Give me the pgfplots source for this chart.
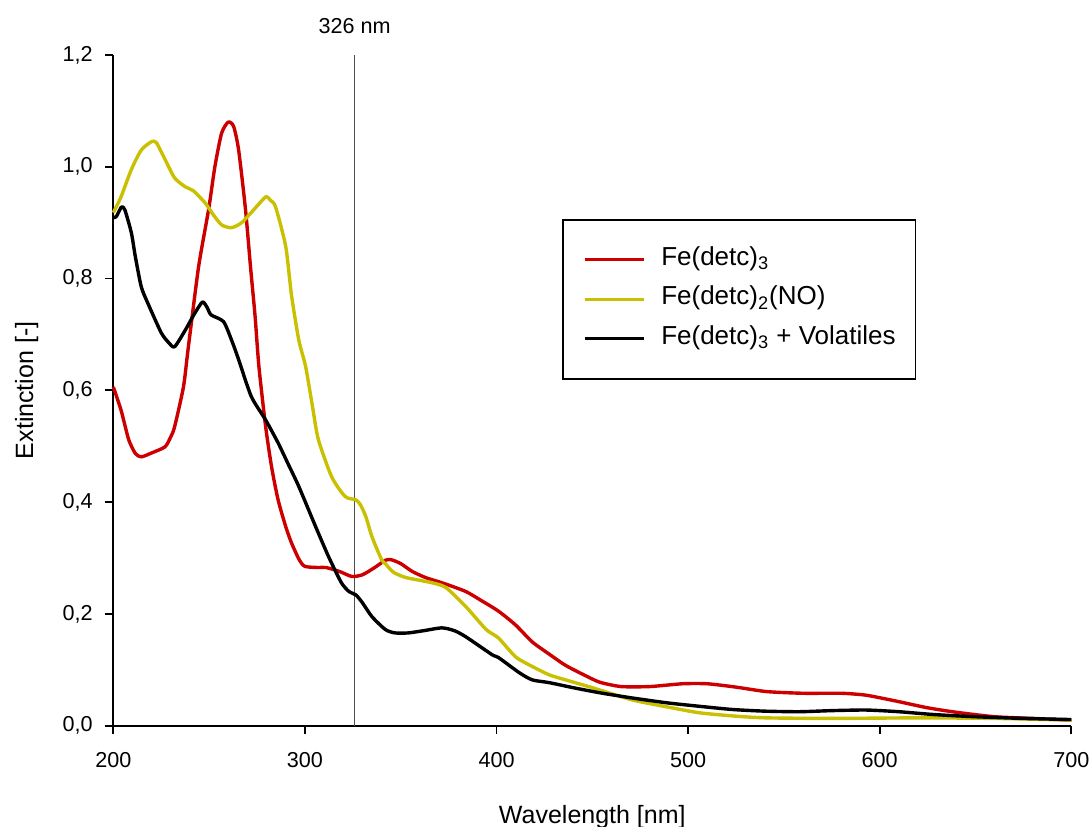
\documentclass[border=0pt]{standalone}
\usepackage{fontspec}
\setmainfont{Liberation Sans}
\usepackage{pgfplots}
\pgfplotsset{compat=1.18}
\definecolor{cred}{RGB}{204,0,0}
\definecolor{cyel}{RGB}{200,192,0}
\begin{document}
\begin{tikzpicture}
\begin{axis}[
  scale only axis, width=479pt, height=335.35pt,
  xmin=200, xmax=700, ymin=0, ymax=1.2,
  axis x line*=bottom, axis y line*=left,
  axis line style={line width=0.85pt, -},
  tick align=outside, major tick length=4.2pt,
  tick style={line width=0.85pt, black},
  xtick={200,300,400,500,600,700},
  xticklabels={200,300,400,500,600,700},
  ytick={0,0.2,0.4,0.6,0.8,1.0,1.2},
  yticklabels={{0,0},{0,2},{0,4},{0,6},{0,8},{1,0},{1,2}},
  xticklabel style={font=\fontsize{10.8}{12}\selectfont, anchor=north, inner sep=0pt, yshift=-9pt},
  yticklabel style={font=\fontsize{10.8}{12}\selectfont, anchor=east, inner sep=0pt, xshift=-6pt},
  xlabel={Wavelength [nm]},
  ylabel={Extinction [-]},
  xlabel style={font=\fontsize{12.5}{14}\selectfont, at={(rel axis cs:0.5,-0.1451)}, anchor=base, inner sep=0pt},
  ylabel style={font=\fontsize{12.5}{14}\selectfont, at={(rel axis cs:-0.0905,0.5)}, anchor=center, rotate=0, inner sep=0pt},
  legend style={at={(rel axis cs:0.4684,0.7555)}, anchor=north west, draw=black, line width=0.8pt,
    inner xsep=10pt, inner ysep=13.75pt, row sep=7.25pt, column sep=8pt,
    font=\fontsize{13}{15}\selectfont,
    nodes={inner sep=0pt, text height=8.95pt, text depth=3.55pt}},
  legend cell align=left,
  legend image code/.code={\draw[#1] (0pt,0pt) -- (29.5pt,0pt);},
  clip=false,
]
\addplot[gray!60!black, line width=0.75pt, forget plot] coordinates {(326,0) (326,1.2)};
\node[font=\fontsize{10.8}{12}\selectfont, inner sep=0pt] at ([yshift=14.5pt]axis cs:326,1.2) {326 nm};

\addplot[cred, line width=1.7pt, line join=round, smooth, tension=0.4] coordinates {
(200,0.606) (204,0.565) (208,0.512) (211.5,0.487) (214.6,0.481) (220,0.488) (227,0.499) (230,0.517)
(232,0.535) (236.6,0.606) (239,0.673) (244.5,0.821) (249.7,0.923) (253,1.0) (256.5,1.06) (260,1.08)
(262.8,1.072) (265.4,1.03) (269,0.923) (271.6,0.821) (274,0.732) (276,0.642) (279.5,0.535) (282.6,0.463)
(286,0.404) (290,0.356) (293,0.327) (297,0.297) (300,0.285) (307,0.283) (311,0.283) (318,0.276)
(324.5,0.267) (330,0.270) (336,0.282) (342,0.296) (345,0.297) (350,0.290) (356,0.276) (363,0.265)
(373,0.254) (384,0.240) (392,0.224) (401,0.205) (410,0.180) (418.6,0.150) (427.5,0.128) (436,0.108)
(445,0.092) (453.7,0.078) (465,0.070) (480,0.070) (497,0.075) (510,0.075) (525,0.069) (541,0.061)
(560,0.058) (580,0.058) (592,0.055) (600,0.050) (610,0.043) (625,0.032) (640,0.024) (660,0.016)
(680,0.013) (700,0.010)};
\addlegendentry{Fe(detc)\textsubscript{3}}

\addplot[cyel, line width=1.7pt, line join=round, smooth, tension=0.4] coordinates {
(200,0.918) (204,0.946) (209.4,0.995) (214.6,1.030) (220,1.045) (222.5,1.043) (227,1.013) (232,0.980)
(237.6,0.964) (241.8,0.957) (248,0.935) (252,0.915) (256.5,0.896) (261.7,0.891) (267,0.900) (273,0.922)
(279.5,0.946) (282,0.940) (284.7,0.928) (290,0.857) (293,0.770) (296.8,0.690) (300.4,0.642) (304,0.570)
(307,0.512) (314,0.445) (321,0.410) (326.6,0.404) (329,0.395) (331.8,0.374) (335,0.338) (340,0.297)
(342,0.290) (346,0.275) (352.7,0.265) (366,0.256) (373.6,0.247) (384,0.213) (394.6,0.172) (401,0.157)
(410,0.123) (418.6,0.106) (427.5,0.091) (436,0.082) (450,0.068) (471,0.046) (490,0.033) (506,0.023)
(525,0.017) (541,0.014) (575,0.013) (620,0.014) (660,0.013) (700,0.010)};
\addlegendentry{Fe(detc)\textsubscript{2}(NO)}

\addplot[black, line width=1.7pt, line join=round, smooth, tension=0.4] coordinates {
(200,0.909) (201.6,0.911) (204.2,0.928) (206,0.923) (209.4,0.882) (211.5,0.839) (214.6,0.785) (218,0.756)
(225,0.703) (229,0.685) (232,0.678) (237.6,0.708) (242,0.735) (246.5,0.758) (249,0.748) (251,0.735)
(257.5,0.723) (261.7,0.690) (265.4,0.655) (272,0.589) (279.5,0.547) (286,0.506) (291,0.470) (296.8,0.428)
(305.6,0.356) (312.4,0.302) (319,0.256) (323,0.240) (326.6,0.234) (330,0.220) (335,0.195) (342,0.172)
(347,0.166) (354,0.166) (362,0.170) (371.5,0.175) (378,0.170) (384,0.159) (397.7,0.127) (401,0.122)
(411.8,0.095) (418.6,0.082) (427.5,0.077) (440,0.068) (453.7,0.059) (470,0.050) (488.7,0.041) (505,0.035)
(523,0.029) (540,0.026) (558,0.025) (575.5,0.027) (593,0.028) (610,0.025) (628,0.020) (650,0.016)
(675,0.013) (700,0.011)};
\addlegendentry{Fe(detc)\textsubscript{3} + Volatiles}

\coordinate (bbl) at (rel axis cs:-0.1183,-0.151);
\coordinate (btr) at (rel axis cs:1.0195,1.082);
\end{axis}
\pgfresetboundingbox
\path[use as bounding box] (bbl) rectangle (btr);
\end{tikzpicture}
\end{document}
